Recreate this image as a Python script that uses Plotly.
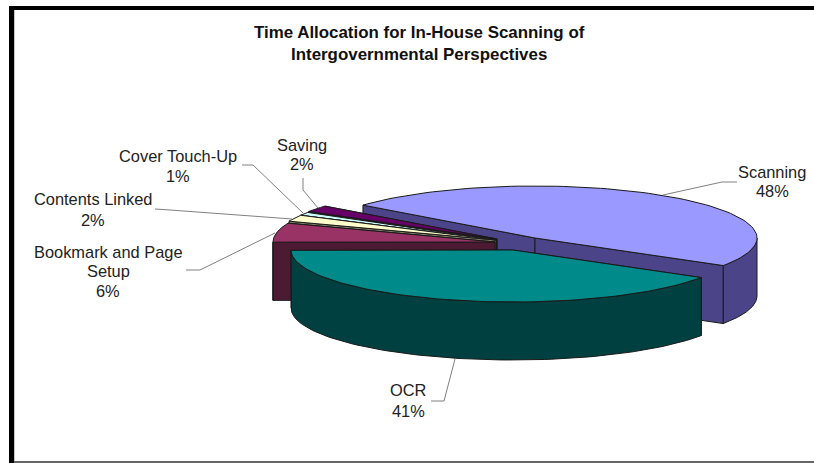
import numpy as np
import plotly.graph_objects as go

# Data
categories = ["Scanning", "OCR", "Bookmark and Page Setup", "Contents Linked", "Cover Touch-Up", "Saving"]
values = [48, 41, 6, 2, 1, 2]

# Styling per slice
top_colors = ["#9999ff", "#008a8a", "#993366", "#ffffcc", "#ccffff", "#660066"]
side_colors = ["#4b4488", "#004040", "#4c1a33", "#7f7f66", "#667f7f", "#330033"]

# Pie projection in page pixels (exploded slices have their own centre)
centres = {"Scanning": (535, 238), "OCR": (513, 250), "Bookmark and Page Setup": (495, 242),
           "Contents Linked": (496, 240), "Cover Touch-Up": (496, 240), "Saving": (497, 239)}
RX, RY, DEPTH = 222, 52, 58
START_DEG = 32.0  # boundary between Scanning and OCR, degrees with y down


def arc(cx, cy, a0, a1, n=90):
    t = np.radians(np.linspace(a0, a1, n))
    return cx + RX * np.cos(t), cy + RY * np.sin(t)


def poly(fig, x, y, fill, line="#1a1a1a", width=1):
    fig.add_trace(go.Scatter(x=list(x), y=list(y), mode="lines", fill="toself", fillcolor=fill,
                             line=dict(color=line, width=width), hoverinfo="skip", showlegend=False))


# slice angle spans: Scanning sweeps backwards over the top; the rest continue clockwise on screen
spans = {}
total = sum(values)
sweep = [v / total * 360 for v in values]
spans["Scanning"] = (START_DEG - sweep[0], START_DEG)
angle = START_DEG
for name, s in zip(categories[1:], sweep[1:]):
    spans[name] = (angle, angle + s)
    angle += s

fig = go.Figure()
draw_order = ["Scanning", "Saving", "Cover Touch-Up", "Contents Linked", "Bookmark and Page Setup", "OCR"]
for name in draw_order:
    i = categories.index(name)
    cx, cy = centres[name]
    a0, a1 = spans[name]
    ax, ay = arc(cx, cy, a0, a1)
    # radial faces, the one further back first
    tips = sorted([(ay[0], ax[0]), (ay[-1], ax[-1])])
    for ty, tx in tips:
        poly(fig, [cx, tx, tx, cx, cx], [cy, ty, ty + DEPTH, cy + DEPTH, cy], side_colors[i])
    # outer wall, only where the rim faces the viewer
    lo, hi = max(a0, 0), min(a1, 180)
    if hi > lo:
        wx, wy = arc(cx, cy, lo, hi)
        poly(fig, np.r_[wx, wx[::-1], wx[0]], np.r_[wy, wy[::-1] + DEPTH, wy[0]], side_colors[i])
    # top face
    poly(fig, np.r_[cx, ax, cx], np.r_[cy, ay, cy], top_colors[i])

# Leader lines
leaders = {
    "Scanning": ([737, 722, 663], [182, 182, 195]),
    "OCR": ([431, 444, 455], [401, 401, 359]),
    "Bookmark and Page Setup": ([186, 200, 275], [270, 270, 233]),
    "Contents Linked": ([155, 170, 292], [209, 210, 219]),
    "Cover Touch-Up": ([242, 253, 303], [165, 165, 213]),
    "Saving": ([303, 303, 318], [178, 190, 208]),
}
for name, (lx, ly) in leaders.items():
    fig.add_trace(go.Scatter(x=lx, y=ly, mode="lines", line=dict(color="#808080", width=1),
                             hoverinfo="skip", showlegend=False))

# Labels: split lines, then percentage
label_lines = {
    "Scanning": (["Scanning"], 772, [172]),
    "OCR": (["OCR"], 408, [390]),
    "Bookmark and Page Setup": (["Bookmark and Page", "Setup"], 108, [252, 271]),
    "Contents Linked": (["Contents Linked"], 93, [199]),
    "Cover Touch-Up": (["Cover Touch-Up"], 178, [156]),
    "Saving": (["Saving"], 302, [145]),
}
pct_y = {"Scanning": 191, "OCR": 411, "Bookmark and Page Setup": 291, "Contents Linked": 220,
         "Cover Touch-Up": 176, "Saving": 164}
annotations = []
for name, v in zip(categories, values):
    lines, x, ys = label_lines[name]
    for text, y in list(zip(lines, ys)) + [(f"{v}%", pct_y[name])]:
        annotations.append(dict(x=x, y=y, text=text, showarrow=False, xanchor="center", yanchor="middle",
                                font=dict(family="Liberation Sans", size=16.4, color="#222222")))

title_lines = ["Time Allocation for In-House Scanning of", "Intergovernmental Perspectives"]
for text, y in zip(title_lines, [32, 54]):
    annotations.append(dict(x=419, y=y, text=f"<b>{text}</b>", showarrow=False, xanchor="center", yanchor="middle",
                            font=dict(family="Liberation Sans", size=16.9, color="#111111")))

# Picture frame
shapes = [
    dict(type="rect", x0=9, x1=14, y0=6, y1=463, fillcolor="#000000", line_width=0, layer="above"),
    dict(type="rect", x0=9, x1=814, y0=6, y1=10, fillcolor="#000000", line_width=0, layer="above"),
    dict(type="rect", x0=14, x1=15, y0=10, y1=463, fillcolor="#c8c8c8", line_width=0, layer="above"),
    dict(type="rect", x0=14, x1=814, y0=461, y1=463, fillcolor="#666666", line_width=0, layer="above"),
]

fig.update_layout(
    width=814, height=463, margin=dict(l=0, r=0, t=0, b=0),
    paper_bgcolor="white", plot_bgcolor="white", showlegend=False,
    xaxis=dict(range=[0, 814], visible=False, fixedrange=True),
    yaxis=dict(range=[463, 0], visible=False, fixedrange=True),
    annotations=annotations, shapes=shapes,
)
fig.write_html("out.html", config={"displayModeBar": False},
               post_script="document.body.style.margin='0';document.body.style.overflow='hidden';")
